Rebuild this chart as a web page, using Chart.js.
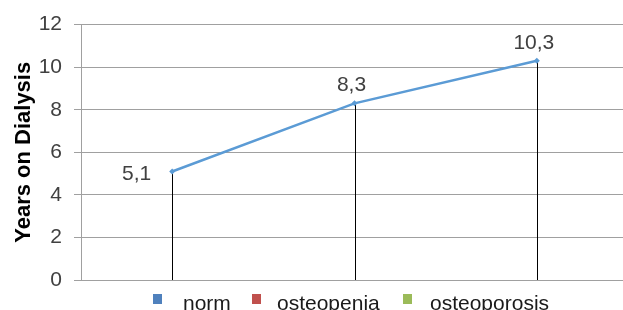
<!DOCTYPE html>
<html>
<head>
<meta charset="utf-8">
<script src="https://cdn.jsdelivr.net/npm/chart.js@4"></script>
<style>
  html, body { margin: 0; padding: 0; background: #fff; overflow: hidden; }
  #wrap { position: relative; width: 623px; height: 310px; overflow: hidden; }
  #legend { position: absolute; left: 0; top: 0; width: 623px; height: 310px; pointer-events: none;
            font-family: 'Liberation Sans', Arial, sans-serif; font-size: 21px; color: #1a1a1a; }
  .box { position: absolute; top: 294px; width: 9px; height: 10px; }
  .txt { position: absolute; top: 291px; line-height: 24px; white-space: nowrap; }
</style>
</head>
<body>
<div id="wrap">
  <canvas id="chart" width="632" height="310"></canvas>
  <div id="legend"></div>
</div>
<script>
// data
const groups = ['norm', 'osteopenia', 'osteoporosis'];
const years = [5.1, 8.3, 10.3];
const seriesNames = ['norm', 'osteopenia', 'osteoporosis'];
const seriesColors = ['#4f81bd', '#c0504d', '#9bbb59'];
const yTicks = [0, 2, 4, 6, 8, 10, 12];

const lineColor = '#5b9bd5';
const textColor = '#404040';
const fontFamily = "'Liberation Sans', Arial, sans-serif";

// legend (the picture's own spacing, drawn as html text)
const legendBoxX = [153, 252, 403];
const legendTextX = [183, 277, 430];
const legendEl = document.getElementById('legend');
seriesNames.forEach(function (name, i) {
    const b = document.createElement('div');
    b.className = 'box';
    b.style.left = legendBoxX[i] + 'px';
    b.style.background = seriesColors[i];
    legendEl.appendChild(b);
    const t = document.createElement('div');
    t.className = 'txt';
    t.style.left = legendTextX[i] + 'px';
    t.textContent = name;
    legendEl.appendChild(t);
});

// vertical drop lines from each point down to the axis
const dropLines = {
    id: 'dropLines',
    beforeDatasetsDraw(chart) {
        const ctx = chart.ctx;
        const meta = chart.getDatasetMeta(0);
        const bottom = chart.scales.y.getPixelForValue(0);
        ctx.save();
        ctx.strokeStyle = '#000';
        ctx.lineWidth = 1;
        meta.data.forEach(function (pt) {
            const x = Math.round(pt.x) + 0.5;
            ctx.beginPath();
            ctx.moveTo(x, pt.y);
            ctx.lineTo(x, bottom);
            ctx.stroke();
        });
        ctx.restore();
    }
};

// value labels, comma decimals
const valueLabels = {
    id: 'valueLabels',
    afterDatasetsDraw(chart) {
        const ctx = chart.ctx;
        const meta = chart.getDatasetMeta(0);
        ctx.save();
        ctx.font = '21px ' + fontFamily;
        ctx.fillStyle = textColor;
        ctx.textBaseline = 'middle';
        meta.data.forEach(function (pt, i) {
            const txt = String(years[i]).replace('.', ',');
            if (i === 0) {
                ctx.textAlign = 'right';
                ctx.fillText(txt, pt.x - 21, pt.y + 3);
            } else {
                ctx.textAlign = 'center';
                ctx.fillText(txt, pt.x - 3, pt.y - 18);
            }
        });
        ctx.restore();
    }
};

const ctx = document.getElementById('chart').getContext('2d');
const chart = new Chart(ctx, {
    type: 'line',
    data: {
        labels: groups,
        datasets: [{
            label: seriesNames[0],
            data: years,
            borderColor: lineColor,
            backgroundColor: lineColor,
            borderWidth: 2.5,
            pointStyle: 'rectRot',
            pointRadius: 3,
            pointBorderWidth: 0,
            tension: 0
        }]
    },
    options: {
        responsive: false,
        animation: false,
        layout: { padding: { top: 24, right: 0, bottom: 30, left: 0 } },
        scales: {
            x: {
                display: false,
                offset: true
            },
            y: {
                min: 0,
                max: 12,
                afterBuildTicks: function (scale) {
                    scale.ticks = yTicks.map(function (v) { return { value: v }; });
                },
                afterFit: function (scale) { scale.width = 81; },
                grid: {
                    color: '#a0a0a0',
                    lineWidth: 1,
                    tickLength: 7,
                    drawTicks: true
                },
                border: { display: true, color: '#a0a0a0' },
                ticks: {
                    padding: 12,
                    color: textColor,
                    font: { family: fontFamily, size: 21 }
                },
                title: {
                    display: true,
                    text: 'Years on Dialysis',
                    color: '#000',
                    padding: { top: 11, bottom: 4 },
                    font: { family: fontFamily, size: 22, weight: 'bold' }
                }
            }
        },
        plugins: {
            legend: { display: false },
            tooltip: { enabled: false }
        }
    },
    plugins: [dropLines, valueLabels]
});
</script>
</body>
</html>
